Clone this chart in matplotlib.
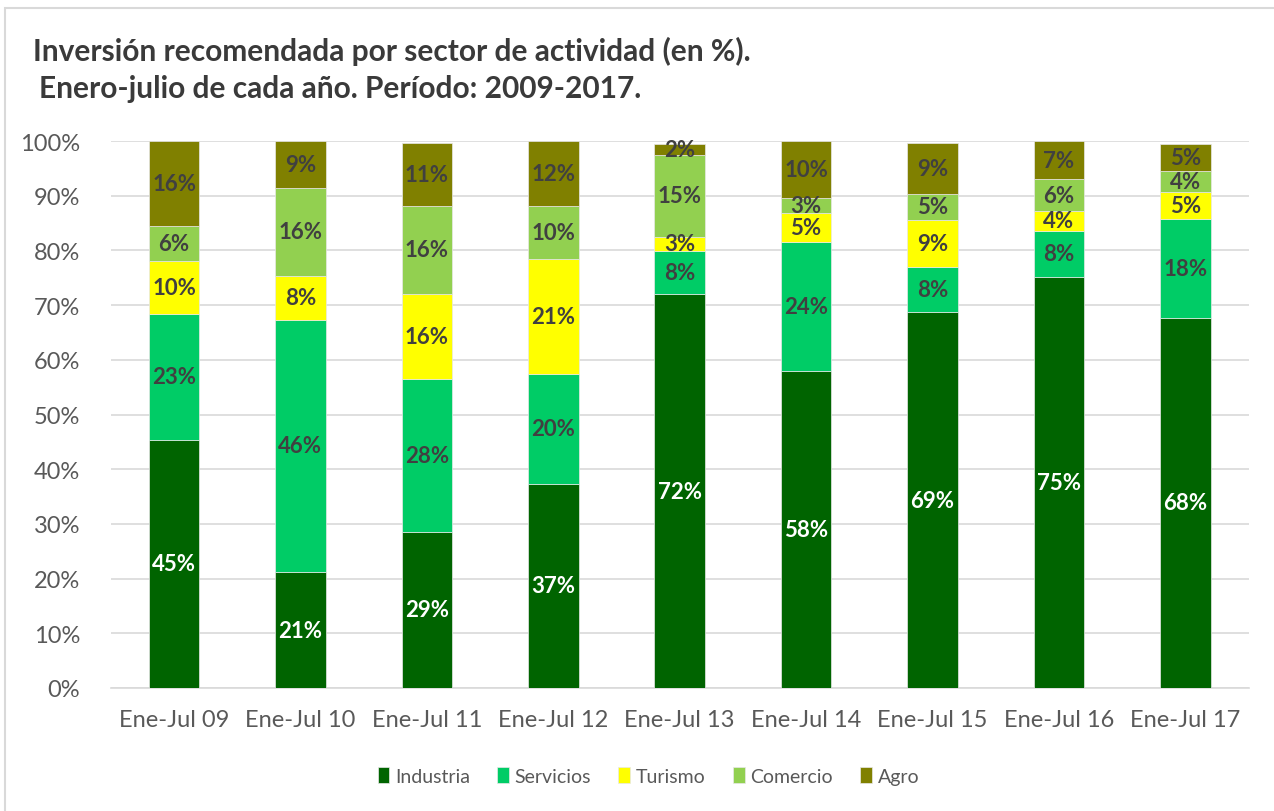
import numpy as np
import matplotlib.pyplot as plt
from matplotlib.patches import Rectangle

plt.rcParams['font.family'] = ['Lato', 'DejaVu Sans']

periodos = ["Ene-Jul 09", "Ene-Jul 10", "Ene-Jul 11", "Ene-Jul 12", "Ene-Jul 13",
            "Ene-Jul 14", "Ene-Jul 15", "Ene-Jul 16", "Ene-Jul 17"]
industria = [45.4, 21.2, 28.6, 37.3, 72.0, 57.9, 68.7, 75.2, 67.7]
servicios = [23.0, 46.1, 27.9, 20.2, 7.9, 23.6, 8.2, 8.4, 18.1]
turismo = [9.6, 8.1, 15.6, 21.0, 2.6, 5.4, 8.7, 3.6, 4.9]
comercio = [6.4, 16.0, 16.1, 9.6, 15.0, 2.7, 4.8, 5.8, 3.9]
agro = [15.6, 8.6, 11.4, 11.9, 1.9, 10.4, 9.2, 7.0, 4.8]

series = [("Industria", industria, "#006400", "white"),
          ("Servicios", servicios, "#00CC66", "#404040"),
          ("Turismo", turismo, "#FFFF00", "#404040"),
          ("Comercio", comercio, "#92D050", "#404040"),
          ("Agro", agro, "#808000", "#404040")]

fig = plt.figure(figsize=(12.74, 8.12), dpi=100)
ax = fig.add_axes([0.087, 0.1515, 0.893, 0.6735])

# light frame around the chart (right and bottom edges fall outside the picture)
fig.patches.append(Rectangle((5/1274, -0.1), 1.2, 1.1 - 9/812, transform=fig.transFigure,
                             fill=False, edgecolor="#D9D9D9", linewidth=1.5))

x = np.arange(len(periodos))
bottom = np.zeros(len(periodos))
for nombre, vals, color, tcolor in series:
    vals = np.array(vals)
    ax.bar(x, vals, 0.4, bottom=bottom, color=color, label=nombre,
           edgecolor="#E8E8E8", linewidth=0.5, zorder=3)
    for xi, b, v in zip(x, bottom, vals):
        ax.text(xi, b + v / 2, "%d%%" % round(v), ha="center", va="center",
                color=tcolor, fontsize=16, fontweight="bold", zorder=4)
    bottom = bottom + vals

ax.set_xlim(-0.5, len(periodos) - 0.5)
ax.set_ylim(0, 100)
ax.set_yticks(np.arange(0, 101, 10))
ax.set_yticklabels(["%d%%" % v for v in range(0, 101, 10)])
ax.set_xticks(x)
ax.set_xticklabels(periodos)
ax.tick_params(axis="both", length=0, labelsize=17, labelcolor="#595959")
ax.tick_params(axis="x", pad=15)
ax.tick_params(axis="y", pad=22)
ax.grid(axis="y", color="#D9D9D9", linewidth=1.2, zorder=0)
for s in ["top", "right", "left"]:
    ax.spines[s].set_visible(False)
ax.spines["bottom"].set_color("#D9D9D9")
ax.spines["bottom"].set_linewidth(1.2)

fig.text(33/1274, 1 - 51/812, "Inversión recomendada por sector de actividad (en %).",
         fontsize=21.5, fontweight="bold", color="#3A3A3A", va="center")
fig.text(39/1274, 1 - 89/812, "Enero-julio de cada año. Período: 2009-2017.",
         fontsize=21.5, fontweight="bold", color="#3A3A3A", va="center")

fig.legend(loc="center", bbox_to_anchor=(0.509, 1 - 777/812), ncol=5, frameon=False,
           fontsize=14, handlelength=0.6, handleheight=0.9, handletextpad=0.3,
           columnspacing=1.4, labelcolor="#595959")

fig.savefig("out.png", dpi=100)
